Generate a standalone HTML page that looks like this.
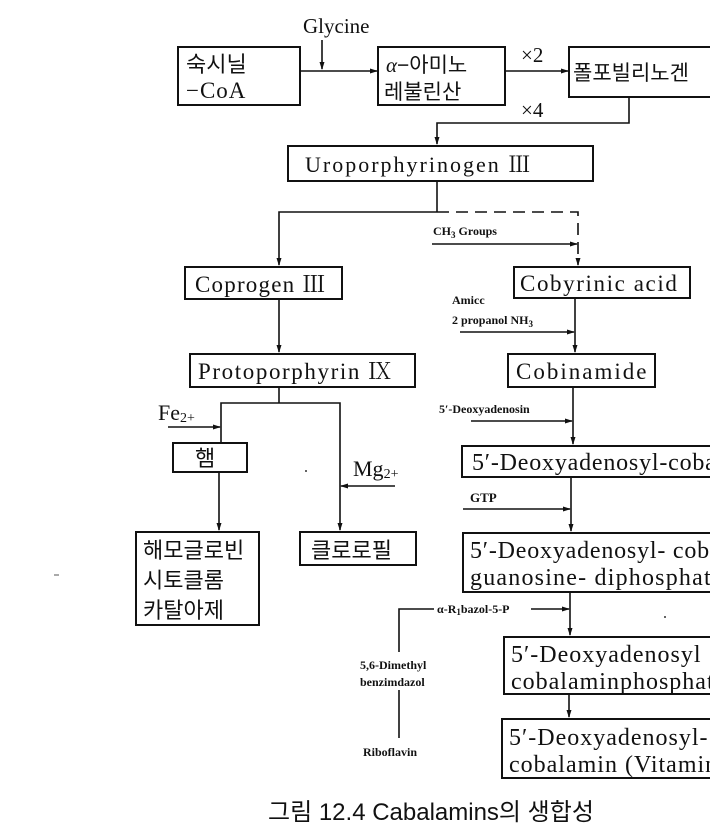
<!DOCTYPE html>
<html><head><meta charset="utf-8"><style>
html,body{margin:0;padding:0;background:#fff;}
svg{display:block}
.s{font-family:"Liberation Serif","Noto Serif CJK SC",serif;fill:#111}
.k{font-family:"Liberation Sans","Noto Sans CJK KR",sans-serif;fill:#111}
.b{font-weight:bold}
</style></head><body>
<svg width="710" height="828" viewBox="0 0 710 828" xmlns="http://www.w3.org/2000/svg">
<defs><marker id="a" markerWidth="8" markerHeight="8" refX="7" refY="4" orient="auto" markerUnits="userSpaceOnUse"><path d="M0,1.5 L8,4 L0,6.5 Z" fill="#111"/></marker></defs>
<g fill="none" stroke="#111" stroke-width="2">
<rect x="178" y="47" width="122" height="58"/>
<rect x="378" y="47" width="127" height="58"/>
<rect x="569" y="47" width="150" height="50"/>
<rect x="288" y="146" width="305" height="35"/>
<rect x="185" y="267" width="157" height="32"/>
<rect x="514" y="267" width="176" height="31"/>
<rect x="190" y="354" width="225" height="33"/>
<rect x="508" y="354" width="147" height="33"/>
<rect x="173" y="443" width="74" height="29"/>
<rect x="462" y="446" width="260" height="31"/>
<rect x="136" y="532" width="123" height="93"/>
<rect x="300" y="532" width="116" height="33"/>
<rect x="463" y="533" width="260" height="59"/>
<rect x="504" y="637" width="220" height="57"/>
<rect x="502" y="719" width="222" height="59"/>
</g>
<g fill="none" stroke="#111" stroke-width="1.6">
<line x1="322" y1="40" x2="322" y2="69" marker-end="url(#a)"/>
<line x1="300" y1="71" x2="377" y2="71" marker-end="url(#a)"/>
<line x1="505" y1="71" x2="568" y2="71" marker-end="url(#a)"/>
<polyline points="629,97 629,123 437,123 437,144" marker-end="url(#a)"/>
<line x1="437" y1="181" x2="437" y2="212"/>
<polyline points="437,212 279,212 279,265" marker-end="url(#a)"/>
<polyline points="437,212 578,212 578,265" stroke-dasharray="12,7" marker-end="url(#a)"/>
<line x1="432" y1="244" x2="577" y2="244" marker-end="url(#a)"/>
<line x1="279" y1="299" x2="279" y2="352" marker-end="url(#a)"/>
<line x1="575" y1="298" x2="575" y2="352" marker-end="url(#a)"/>
<line x1="460" y1="332" x2="574" y2="332" marker-end="url(#a)"/>
<polyline points="279,387 279,403"/>
<polyline points="221,443 221,403 340,403 340,530" marker-end="url(#a)"/>
<line x1="168" y1="427" x2="220" y2="427" marker-end="url(#a)"/>
<line x1="219" y1="472" x2="219" y2="530" marker-end="url(#a)"/>
<line x1="395" y1="486" x2="341" y2="486" marker-end="url(#a)"/>
<line x1="573" y1="387" x2="573" y2="444" marker-end="url(#a)"/>
<line x1="471" y1="421" x2="572" y2="421" marker-end="url(#a)"/>
<line x1="571" y1="477" x2="571" y2="531" marker-end="url(#a)"/>
<line x1="463" y1="509" x2="570" y2="509" marker-end="url(#a)"/>
<line x1="570" y1="592" x2="570" y2="635" marker-end="url(#a)"/>
<polyline points="399,652 399,609 434,609"/>
<line x1="531" y1="609" x2="569" y2="609" marker-end="url(#a)"/>
<line x1="399" y1="690" x2="399" y2="738"/>
<line x1="569" y1="694" x2="569" y2="717" marker-end="url(#a)"/>
</g>
<g class="s">
<text x="303" y="33" font-size="21">Glycine</text>
<text x="521" y="62" font-size="21">×2</text>
<text x="521" y="117" font-size="21">×4</text>
<text x="305" y="172" font-size="22" letter-spacing="2">Uroporphyrinogen  Ⅲ</text>
<text x="195" y="292" font-size="23" letter-spacing="1.2">Coprogen  Ⅲ</text>
<text x="520" y="291" font-size="23" letter-spacing="1.6">Cobyrinic acid</text>
<text x="198" y="379" font-size="23" letter-spacing="1.6">Protoporphyrin  Ⅸ</text>
<text x="516" y="379" font-size="23" letter-spacing="2">Cobinamide</text>
<g class="b">
<text x="433" y="235" font-size="12">CH<tspan font-size="9" dy="3">3</tspan><tspan dy="-3"> Groups</tspan></text>
<text x="452" y="304" font-size="12">Amicc</text>
<text x="452" y="324" font-size="12">2 propanol NH<tspan font-size="9" dy="3">3</tspan></text>
<text x="439" y="413" font-size="12">5′-Deoxyadenosin</text>
<text x="470" y="502" font-size="13">GTP</text>
<text x="437" y="613" font-size="12">α-R<tspan font-size="9" dy="2">1</tspan><tspan dy="-2">bazol-5-P</tspan></text>
<text x="360" y="669" font-size="12">5,6-Dimethyl</text>
<text x="360" y="686" font-size="12">benzimdazol</text>
<text x="363" y="756" font-size="12">Riboflavin</text>
</g>
<text x="158" y="420" font-size="22">Fe<tspan font-size="14" dy="2">2+</tspan></text>
<text x="353" y="476" font-size="22">Mg<tspan font-size="14" dy="2">2+</tspan></text>
<text x="472" y="470" font-size="24" letter-spacing="0.8">5′-Deoxyadenosyl-cobamide</text>
<text x="470" y="558" font-size="24" letter-spacing="0.8">5′-Deoxyadenosyl- cobamide</text>
<text x="470" y="585" font-size="24" letter-spacing="1.2">guanosine- diphosphate</text>
<text x="511" y="662" font-size="24" letter-spacing="1">5′-Deoxyadenosyl</text>
<text x="511" y="689" font-size="24" letter-spacing="1">cobalaminphosphate</text>
<text x="509" y="745" font-size="24" letter-spacing="1">5′-Deoxyadenosyl-</text>
<text x="509" y="772" font-size="24" letter-spacing="1">cobalamin (Vitamin B12)</text>
<text x="186" y="98" font-size="23" letter-spacing="1">−CoA</text>
</g>
<g class="k">
<text x="186" y="72" font-size="22">숙시닐</text>
<text x="386" y="72" font-size="21"><tspan font-family="Liberation Serif" font-style="italic">α</tspan>−아미노</text>
<text x="384" y="99" font-size="21">레불린산</text>
<text x="573" y="80" font-size="21">폴포빌리노겐</text>
<text x="195" y="466" font-size="22">햄</text>
<text x="143" y="558" font-size="22">해모글로빈</text>
<text x="143" y="588" font-size="22">시토클롬</text>
<text x="143" y="618" font-size="22">카탈아제</text>
<text x="311" y="558" font-size="22">클로로필</text>
<text x="268" y="820" font-size="24">그림 12.4 Cabalamins의 생합성</text>
</g>
<circle cx="306" cy="471" r="1" fill="#333"/>
<circle cx="665" cy="617" r="1" fill="#333"/>
<line x1="54" y1="575" x2="59" y2="575" stroke="#555" stroke-width="1"/>
</svg>
</body></html>
